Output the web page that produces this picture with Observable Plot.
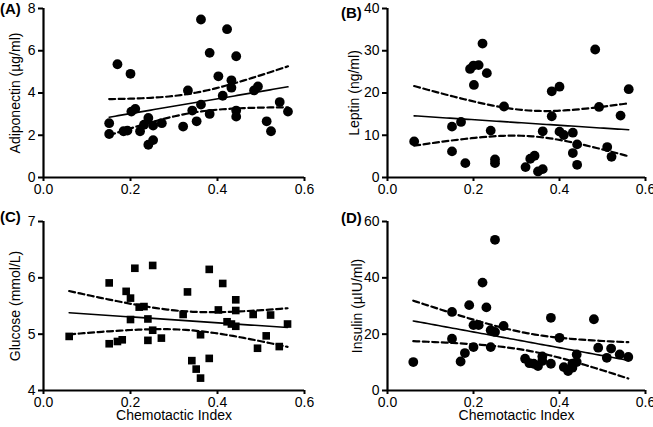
<!DOCTYPE html>
<html><head><meta charset="utf-8">
<script src="https://cdn.jsdelivr.net/npm/d3@7"></script>
<script src="https://cdn.jsdelivr.net/npm/@observablehq/plot@0.6"></script>
<style>
body{margin:0;width:653px;height:427px;overflow:hidden;background:#fff;font-family:"Liberation Sans",Arial,sans-serif;position:relative}
.p{position:absolute}
.p svg{overflow:visible}
.lab{position:absolute;font-weight:bold;font-size:15px;color:#000;line-height:15px}
</style>
</head><body>
<div id="A" class="p" style="left:0;top:0"></div>
<div id="B" class="p" style="left:325px;top:0"></div>
<div id="C" class="p" style="left:0;top:213px"></div>
<div id="D" class="p" style="left:325px;top:213px"></div>
<div class="lab" style="left:0;top:1px">(A)</div>
<div class="lab" style="left:341px;top:5px">(B)</div>
<div class="lab" style="left:0;top:209px">(C)</div>
<div class="lab" style="left:341px;top:210px">(D)</div>
<script>
const xTicks = [0, 0.2, 0.4, 0.6];
const xLabel = "Chemotactic Index";

const adipoX = [0.151,0.151,0.17,0.20,0.184,0.193,0.202,0.211,0.222,0.231,0.241,0.241,0.252,0.252,0.272,0.321,0.332,0.342,0.352,0.362,0.362,0.382,0.382,0.402,0.412,0.422,0.432,0.432,0.443,0.443,0.443,0.484,0.493,0.513,0.523,0.543,0.562];
const adipoY = [2.57,2.06,5.36,4.91,2.19,2.22,3.12,3.25,2.19,2.5,2.82,1.55,2.46,1.77,2.57,2.41,4.12,3.17,2.66,3.45,7.48,5.9,3.01,4.79,3.87,7.02,4.6,4.25,5.74,3.17,2.88,4.12,4.31,2.66,2.19,3.57,3.12];
const adipoTicks = [0, 2, 4, 6, 8];

const leptinX = [0.062,0.15,0.15,0.171,0.181,0.192,0.2,0.212,0.201,0.221,0.231,0.24,0.25,0.25,0.271,0.321,0.332,0.342,0.35,0.361,0.361,0.382,0.382,0.4,0.41,0.4,0.431,0.431,0.441,0.441,0.483,0.492,0.511,0.521,0.542,0.561];
const leptinY = [8.55,12.04,6.18,13.15,3.4,25.7,26.5,26.6,21.9,31.7,24.7,11.1,4.28,3.4,16.8,2.46,4.44,5.15,1.43,1.98,10.93,20.4,14.5,10.85,10.06,21.5,10.6,5.78,7.84,3.01,30.3,16.7,7.2,4.9,14.65,20.9];
const leptinTicks = [0, 10, 20, 30, 40];

const glucoseX = [0.059,0.151,0.151,0.17,0.181,0.19,0.2,0.2,0.21,0.22,0.231,0.24,0.24,0.251,0.251,0.271,0.321,0.331,0.341,0.351,0.361,0.361,0.381,0.381,0.402,0.412,0.422,0.432,0.442,0.442,0.442,0.482,0.492,0.512,0.522,0.542,0.561];
const glucoseY = [4.96,5.91,4.83,4.87,4.9,5.76,5.64,5.26,6.17,5.48,5.49,5.27,4.89,6.22,5.07,4.93,5.35,5.75,4.53,4.38,4.99,4.22,6.15,4.57,5.43,5.9,5.22,5.18,5.14,5.42,5.61,5.35,4.75,4.97,5.34,4.78,5.18];
const glucoseTicks = [4, 5, 6, 7];

const insulinX = [0.06,0.15,0.15,0.17,0.18,0.19,0.2,0.2,0.212,0.221,0.23,0.24,0.24,0.25,0.25,0.27,0.32,0.33,0.34,0.35,0.36,0.36,0.38,0.38,0.4,0.41,0.42,0.43,0.43,0.44,0.44,0.48,0.49,0.51,0.52,0.54,0.56];
const insulinY = [10.1,27.9,18.4,10.3,13.3,30.3,23.2,15.4,23.2,38.3,29.5,15.4,21.4,53.5,20.8,22.9,11.3,9.7,9.5,8.7,10.5,12.1,9.5,25.8,18.7,8.3,6.9,8.1,9.5,10.1,12.8,25.3,15.2,11.6,14.9,12.8,11.9];
const insulinTicks = [0, 20, 40, 60];

// least-squares fit with 95% confidence band of the mean (as drawn by the original software)
function fit(xs, ys) {
  const n = xs.length;
  const mx = d3.mean(xs), my = d3.mean(ys);
  let sxx = 0, sxy = 0;
  for (let i = 0; i < n; i++) { sxx += (xs[i]-mx)**2; sxy += (xs[i]-mx)*(ys[i]-my); }
  const b = sxy / sxx, a = my - b * mx;
  let sse = 0;
  for (let i = 0; i < n; i++) sse += (ys[i] - a - b*xs[i])**2;
  const s = Math.sqrt(sse / (n - 2));
  const t = 2.03;
  const [x0, x1] = d3.extent(xs);
  const line = [], upper = [], lower = [];
  for (let k = 0; k <= 60; k++) {
    const x = x0 + (x1 - x0) * k / 60;
    const yh = a + b * x;
    const h = t * s * Math.sqrt(1/n + (x-mx)**2 / sxx);
    line.push({x, y: yh}); upper.push({x, y: yh + h}); lower.push({x, y: yh - h});
  }
  return {line, upper, lower};
}

function panel(id, xs, ys, yTicks, yLabel, symbol, opts) {
  const data = xs.map((x, i) => ({x, y: ys[i]}));
  const f = fit(xs, ys);
  const ymin = yTicks[0], ymax = yTicks[yTicks.length-1];
  const marks = [
    Plot.axisX({ticks: xTicks, tickFormat: d3.format(".1f"), tickSize: 4, tickPadding: 2.5, strokeWidth: 2, label: null, fontSize: 14}),
    Plot.axisY({ticks: yTicks, tickFormat: d3.format("d"), tickSize: 5, tickPadding: 3, strokeWidth: 2, label: null, fontSize: 14}),
    Plot.ruleX([0], {strokeWidth: 2.2}),
    Plot.ruleY([ymin], {strokeWidth: 2.2}),
    Plot.line(f.upper, {x: "x", y: "y", strokeWidth: 2.2, strokeDasharray: "6,3.5"}),
    Plot.line(f.lower, {x: "x", y: "y", strokeWidth: 2.2, strokeDasharray: "6,3.5"}),
    Plot.line(f.line, {x: "x", y: "y", strokeWidth: 1.6}),
    Plot.dot(data, {x: "x", y: "y", r: symbol === "square" ? 4.3 : 4.9, fill: "black", stroke: "none", symbol}),
    Plot.text([yLabel], {frameAnchor: "left", textAnchor: "middle", lineAnchor: "middle", rotate: -90, dx: opts.ydx, fontSize: 14})
  ];
  if (opts.xlabel) marks.push(Plot.text([xLabel], {frameAnchor: "bottom", textAnchor: "middle", lineAnchor: "middle", dy: 25.5, fontSize: 14}));
  const chart = Plot.plot({
    width: opts.width, height: opts.height,
    marginLeft: opts.ml, marginRight: opts.mr, marginTop: 8, marginBottom: opts.mb,
    style: {fontFamily: "'Liberation Sans', Arial, sans-serif", fontSize: "14px", color: "#000", background: "transparent", overflow: "visible"},
    x: {domain: [0, 0.6]},
    y: {domain: [ymin, ymax]},
    marks
  });
  document.getElementById(id).appendChild(chart);
}

panel("A", adipoX, adipoY, adipoTicks, "Adiponectin (µg/ml)", "circle", {width: 326, height: 213, ml: 43, mr: 22, mb: 36, ydx: -28});
panel("B", leptinX, leptinY, leptinTicks, "Leptin (ng/ml)", "circle", {width: 328, height: 213, ml: 62, mr: 8, mb: 36, ydx: -33});
panel("C", glucoseX, glucoseY, glucoseTicks, "Glucose (mmol/L)", "square", {width: 326, height: 214, ml: 43, mr: 22, mb: 37, ydx: -28, xlabel: true});
panel("D", insulinX, insulinY, insulinTicks, "Insulin (µIU/ml)", "circle", {width: 328, height: 214, ml: 62, mr: 8, mb: 37, ydx: -30, xlabel: true});
</script>
</body></html>
